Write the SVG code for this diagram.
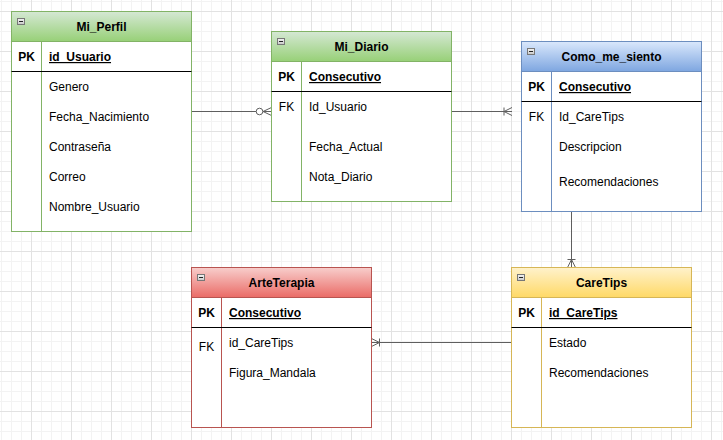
<svg xmlns="http://www.w3.org/2000/svg" width="723" height="440" viewBox="0 0 723 440">
<defs>
<pattern id="grid" patternUnits="userSpaceOnUse" x="0" y="0" width="40" height="40">
<path d="M1.5,0V40M11.5,0V40M21.5,0V40M0,1.5H40M0,21.5H40M0,31.5H40" stroke="#f3f3f3" stroke-width="1" fill="none"/>
<path d="M31.5,0V40M0,11.5H40" stroke="#e2e2e2" stroke-width="1" fill="none"/>
</pattern>
<linearGradient id="gGreen" x1="0" y1="0" x2="0" y2="1"><stop offset="0" stop-color="#d5e8d4"/><stop offset="1" stop-color="#97d077"/></linearGradient>
<linearGradient id="gBlue" x1="0" y1="0" x2="0" y2="1"><stop offset="0" stop-color="#dae8fc"/><stop offset="1" stop-color="#7ea6e0"/></linearGradient>
<linearGradient id="gRed" x1="0" y1="0" x2="0" y2="1"><stop offset="0" stop-color="#f8cecc"/><stop offset="1" stop-color="#ea6b66"/></linearGradient>
<linearGradient id="gYellow" x1="0" y1="0" x2="0" y2="1"><stop offset="0" stop-color="#fff2cc"/><stop offset="1" stop-color="#ffd966"/></linearGradient>
<linearGradient id="gIcon" x1="0" y1="0" x2="0" y2="1"><stop offset="0" stop-color="#f4f4f4"/><stop offset="1" stop-color="#c8c8c8"/></linearGradient>
<g id="collapse">
<rect x="0" y="0" width="7" height="6" fill="url(#gIcon)" stroke="#777" stroke-width="1"/>
<path d="M1.5,3H5.5" stroke="#222" stroke-width="1"/>
</g>
<marker id="oneMany" markerUnits="userSpaceOnUse" orient="auto" refX="0" refY="0" markerWidth="20" markerHeight="20" viewBox="-10 -10 20 20" overflow="visible">
<path d="M0,-4L-8,0L0,4M-8,-4V4" fill="none" stroke="#5f5f5f" stroke-width="1"/>
</marker>
<marker id="zeroMany" markerUnits="userSpaceOnUse" orient="auto" refX="0" refY="0" markerWidth="20" markerHeight="20" viewBox="-16 -10 20 20" overflow="visible">
<path d="M0,-4L-8.5,0L0,4" fill="none" stroke="#5f5f5f" stroke-width="1"/>
<circle cx="-12" cy="0" r="3.3" fill="#fff" stroke="#5f5f5f" stroke-width="1"/>
</marker>
</defs>
<style>
.t{font-family:"Liberation Sans",Arial,sans-serif;font-size:12px;fill:#000}
.title{font-weight:bold;text-anchor:middle}
.pk{font-weight:bold;text-anchor:middle}
.fk{text-anchor:middle}
.pkf{font-weight:bold;text-decoration:underline}
.body{fill:#fff}
.sep{stroke:#000;stroke-width:1}
.edge{fill:none;stroke:#5f5f5f;stroke-width:1}
</style>
<rect width="723" height="440" fill="#fff"/>
<rect width="723" height="440" fill="url(#grid)"/>

<g id="connectors">
<path class="edge" d="M191.5,111.5H271.5" marker-end="url(#zeroMany)"/>
<path class="edge" d="M451.5,111.5H512" marker-end="url(#oneMany)"/>
<path class="edge" d="M571.5,211.5V267.5" marker-end="url(#oneMany)"/>
<path class="edge" d="M511.5,342.5H371.5" marker-end="url(#oneMany)"/>
</g>

<g id="Mi_Perfil">
<rect x="11.5" y="11.5" width="180" height="220" class="body" stroke="#82b366"/>
<rect x="11.5" y="11.5" width="180" height="30" fill="url(#gGreen)" stroke="#82b366"/>
<use href="#collapse" x="17.5" y="18.5"/>
<text class="t title" x="101.5" y="31">Mi_Perfil</text>
<path d="M41.5,41.5V231.5" stroke="#82b366"/>
<path class="sep" d="M11.5,71.5H191.5"/>
<text class="t pk" x="26.5" y="61">PK</text>
<text class="t pkf" x="49" y="61">id_Usuario</text>
<text class="t" x="49" y="91">Genero</text>
<text class="t" x="49" y="121">Fecha_Nacimiento</text>
<text class="t" x="49" y="151">Contraseña</text>
<text class="t" x="49" y="181">Correo</text>
<text class="t" x="49" y="211">Nombre_Usuario</text>
</g>

<g id="Mi_Diario">
<rect x="271.5" y="31.5" width="180" height="170" class="body" stroke="#82b366"/>
<rect x="271.5" y="31.5" width="180" height="30" fill="url(#gGreen)" stroke="#82b366"/>
<use href="#collapse" x="277.5" y="38.5"/>
<text class="t title" x="361.5" y="51">Mi_Diario</text>
<path d="M301.5,61.5V201.5" stroke="#82b366"/>
<path class="sep" d="M271.5,91.5H451.5"/>
<text class="t pk" x="286.5" y="81">PK</text>
<text class="t pkf" x="309" y="81">Consecutivo</text>
<text class="t fk" x="286.5" y="111">FK</text>
<text class="t" x="309" y="111">Id_Usuario</text>
<text class="t" x="309" y="151">Fecha_Actual</text>
<text class="t" x="309" y="181">Nota_Diario</text>
</g>

<g id="Como_me_siento">
<rect x="521.5" y="41.5" width="180" height="170" class="body" stroke="#6c8ebf"/>
<rect x="521.5" y="41.5" width="180" height="30" fill="url(#gBlue)" stroke="#6c8ebf"/>
<use href="#collapse" x="527.5" y="48.5"/>
<text class="t title" x="611.5" y="61">Como_me_siento</text>
<path d="M551.5,71.5V211.5" stroke="#6c8ebf"/>
<path class="sep" d="M521.5,101.5H701.5"/>
<text class="t pk" x="536.5" y="91">PK</text>
<text class="t pkf" x="559" y="91">Consecutivo</text>
<text class="t fk" x="536.5" y="121">FK</text>
<text class="t" x="559" y="121">Id_CareTips</text>
<text class="t" x="559" y="151">Descripcion</text>
<text class="t" x="559" y="186">Recomendaciones</text>
</g>

<g id="ArteTerapia">
<rect x="191.5" y="267.5" width="180" height="160" class="body" stroke="#b85450"/>
<rect x="191.5" y="267.5" width="180" height="30" fill="url(#gRed)" stroke="#b85450"/>
<use href="#collapse" x="197.5" y="274.5"/>
<text class="t title" x="281.5" y="287">ArteTerapia</text>
<path d="M221.5,297.5V427.5" stroke="#b85450"/>
<path class="sep" d="M191.5,327.5H371.5"/>
<text class="t pk" x="206.5" y="317">PK</text>
<text class="t pkf" x="229" y="317">Consecutivo</text>
<text class="t fk" x="206.5" y="351">FK</text>
<text class="t" x="229" y="347">id_CareTips</text>
<text class="t" x="229" y="377">Figura_Mandala</text>
</g>

<g id="CareTips">
<rect x="511.5" y="267.5" width="180" height="160" class="body" stroke="#d6b656"/>
<rect x="511.5" y="267.5" width="180" height="30" fill="url(#gYellow)" stroke="#d6b656"/>
<use href="#collapse" x="517.5" y="274.5"/>
<text class="t title" x="601.5" y="287">CareTips</text>
<path d="M541.5,297.5V427.5" stroke="#d6b656"/>
<path class="sep" d="M511.5,327.5H691.5"/>
<text class="t pk" x="526.5" y="317">PK</text>
<text class="t pkf" x="549" y="317">id_CareTips</text>
<text class="t" x="549" y="347">Estado</text>
<text class="t" x="549" y="377">Recomendaciones</text>
</g>
</svg>
